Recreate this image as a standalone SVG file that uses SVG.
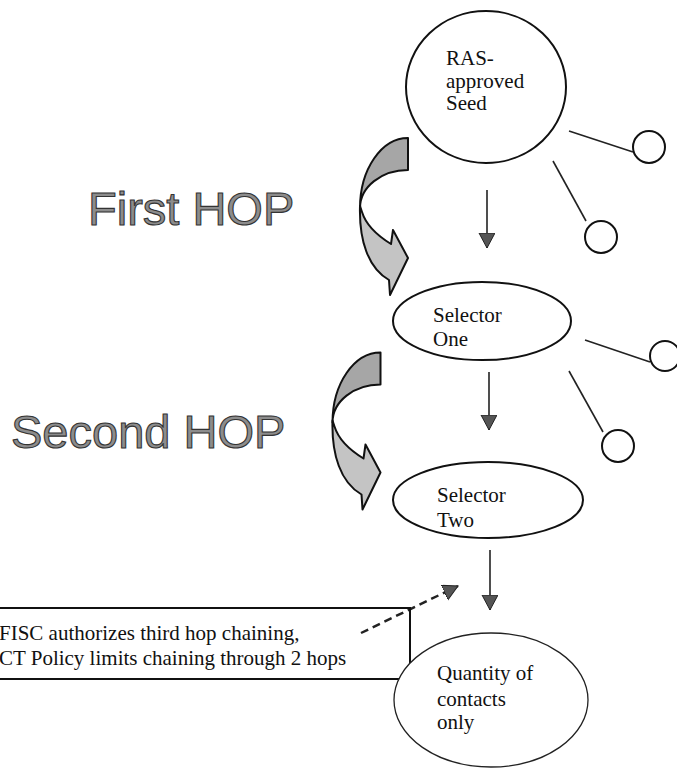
<svg xmlns="http://www.w3.org/2000/svg" width="677" height="769" viewBox="0 0 677 769">
<style>
.node{fill:#fff;stroke:#111;stroke-width:2}
.thin{fill:#fff;stroke:#222;stroke-width:1.3}
.lbl{font-family:"Liberation Serif","Times New Roman",serif;font-size:21px;fill:#111}
.hop{font-family:"Liberation Sans",Arial,sans-serif;font-size:47px;fill:#8c8c8c;stroke:#333;stroke-width:1.1}
.conn{stroke:#222;stroke-width:1.6;fill:none}
.back{fill:#a6a6a6;stroke:#111;stroke-width:2;stroke-linejoin:round}
.front{fill:#c4c4c4;stroke:#111;stroke-width:2;stroke-linejoin:round}
</style>
<defs>
<marker id="ah" markerUnits="userSpaceOnUse" markerWidth="18" markerHeight="18" refX="15" refY="8" orient="auto">
<path d="M0,0 L15,8 L0,16 Z" fill="#555" stroke="#222" stroke-width="1"/>
</marker>
<g id="curved">
<path class="back" d="M408,138 A48,70 0 0 0 360,208 A48,38 0 0 1 408,170 Z"/>
<path class="front" d="M360,206 C359,240 368,268 389,280 L390,295 L408,258 L393,230 L391,244 C378,236 366,225 362,212 Z"/>
</g>
</defs>
<rect width="677" height="769" fill="#fff"/>

<g id="hop-labels">
<text class="hop" x="88" y="225">First HOP</text>
<text class="hop" x="11" y="448">Second HOP</text>
</g>

<g id="hop-arrow-1"><use href="#curved"/></g>
<g id="hop-arrow-2"><use href="#curved" transform="translate(-27.5,214.5)"/></g>

<g id="connectors">
<line class="conn" x1="487" y1="190" x2="487" y2="248" marker-end="url(#ah)"/>
<line class="conn" x1="489" y1="372" x2="489" y2="430" marker-end="url(#ah)"/>
<line class="conn" x1="490" y1="550" x2="490" y2="610" marker-end="url(#ah)"/>
<line class="conn" x1="569" y1="131" x2="633" y2="152"/>
<line class="conn" x1="553" y1="161" x2="586" y2="221"/>
<line class="conn" x1="585" y1="340" x2="650" y2="362"/>
<line class="conn" x1="569" y1="371" x2="603" y2="432"/>
<line stroke="#222" stroke-width="2.5" stroke-dasharray="8,5" x1="361" y1="633" x2="458" y2="586" marker-end="url(#ah)"/>
</g>

<g id="seed">
<ellipse class="node" cx="486" cy="87" rx="80" ry="76"/>
<text class="lbl" x="446" y="65">RAS-</text>
<text class="lbl" x="446" y="88">approved</text>
<text class="lbl" x="446" y="110">Seed</text>
</g>
<g id="seed-contact-1"><circle class="node" cx="649" cy="147" r="16"/></g>
<g id="seed-contact-2"><circle class="node" cx="601" cy="237" r="16"/></g>

<g id="selector-one">
<ellipse class="node" cx="482" cy="321" rx="89" ry="39"/>
<text class="lbl" x="433" y="322">Selector</text>
<text class="lbl" x="433" y="346">One</text>
</g>
<g id="one-contact-1"><circle class="node" cx="665" cy="356" r="15"/></g>
<g id="one-contact-2"><circle class="node" cx="618" cy="446" r="16"/></g>

<g id="selector-two">
<ellipse class="node" cx="488" cy="500" rx="95" ry="38"/>
<text class="lbl" x="437" y="502">Selector</text>
<text class="lbl" x="437" y="527">Two</text>
</g>

<g id="policy-note">
<rect x="-10" y="608" width="420" height="71" fill="none" stroke="#111" stroke-width="2"/>
<text class="lbl" x="-1" y="640">FISC authorizes third hop chaining,</text>
<text class="lbl" x="-1" y="665">CT Policy limits chaining through 2 hops</text>
</g>

<g id="quantity">
<ellipse class="thin" cx="491" cy="700" rx="97" ry="67" fill="none"/>
<text class="lbl" x="437" y="680">Quantity of</text>
<text class="lbl" x="437" y="706">contacts</text>
<text class="lbl" x="437" y="729">only</text>
</g>
</svg>
